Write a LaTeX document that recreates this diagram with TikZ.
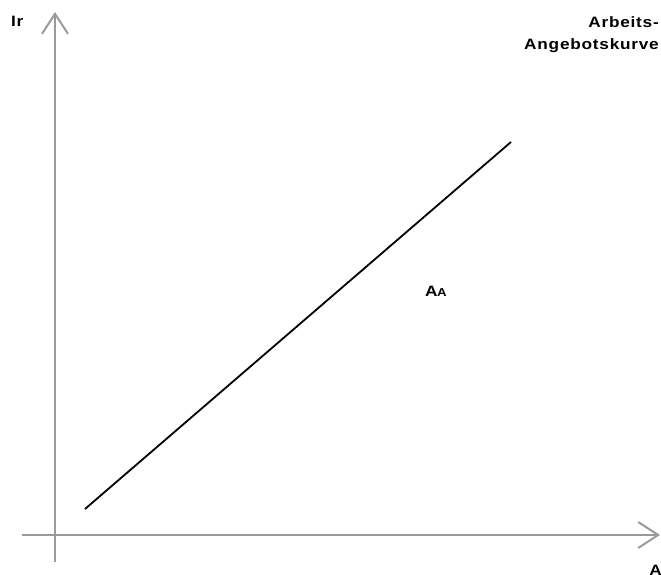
\documentclass[tikz,border=0pt]{standalone}
\usepackage{fontspec}
\setmainfont{Liberation Sans}
\usepackage{xcolor}
\usetikzlibrary{arrows.meta,positioning}
\definecolor{axisgrey}{HTML}{9A9A9A}

\begin{document}
\begin{tikzpicture}[x=1pt,y=-1pt,
  axis/.style={axisgrey, line width=2pt, -{Straight Barb[length=20pt,width=26pt,line width=2pt]}},
  curve/.style={black, line width=1.8pt},
  lbl/.style={font=\bfseries\fontsize{15}{22}\selectfont\addfontfeature{FakeStretch=1.15,LetterSpace=5}, inner sep=0pt}
]
  \useasboundingbox (0,0) rectangle (661,575);
  % axes
  \coordinate (ybot) at (55,562);
  \coordinate (ytop) at (55,12);
  \coordinate (xleft) at (22,535);
  \coordinate (xright) at (660,535);
  \draw[axis] (ybot) -- (ytop);
  \draw[axis] (xleft) -- (xright);

  % supply curve
  \coordinate (c0) at (85,509);
  \coordinate (c1) at (511,142);
  \draw[curve] (c0) -- (c1);

  % labels
  \node[lbl, anchor=base west] (ir) at (11,27) {Ir};
  \node[lbl, anchor=base east, align=right] (aak) at (659,50)
    {Arbeits-\\Angebotskurve};
  \node[lbl, anchor=base west] (aa) at (425,296)
    {A\kern-0.5pt{\fontsize{11.5}{12}\selectfont A}};
  \node[lbl, anchor=base east] (a) at (662,575) {A};
\end{tikzpicture}
\end{document}
